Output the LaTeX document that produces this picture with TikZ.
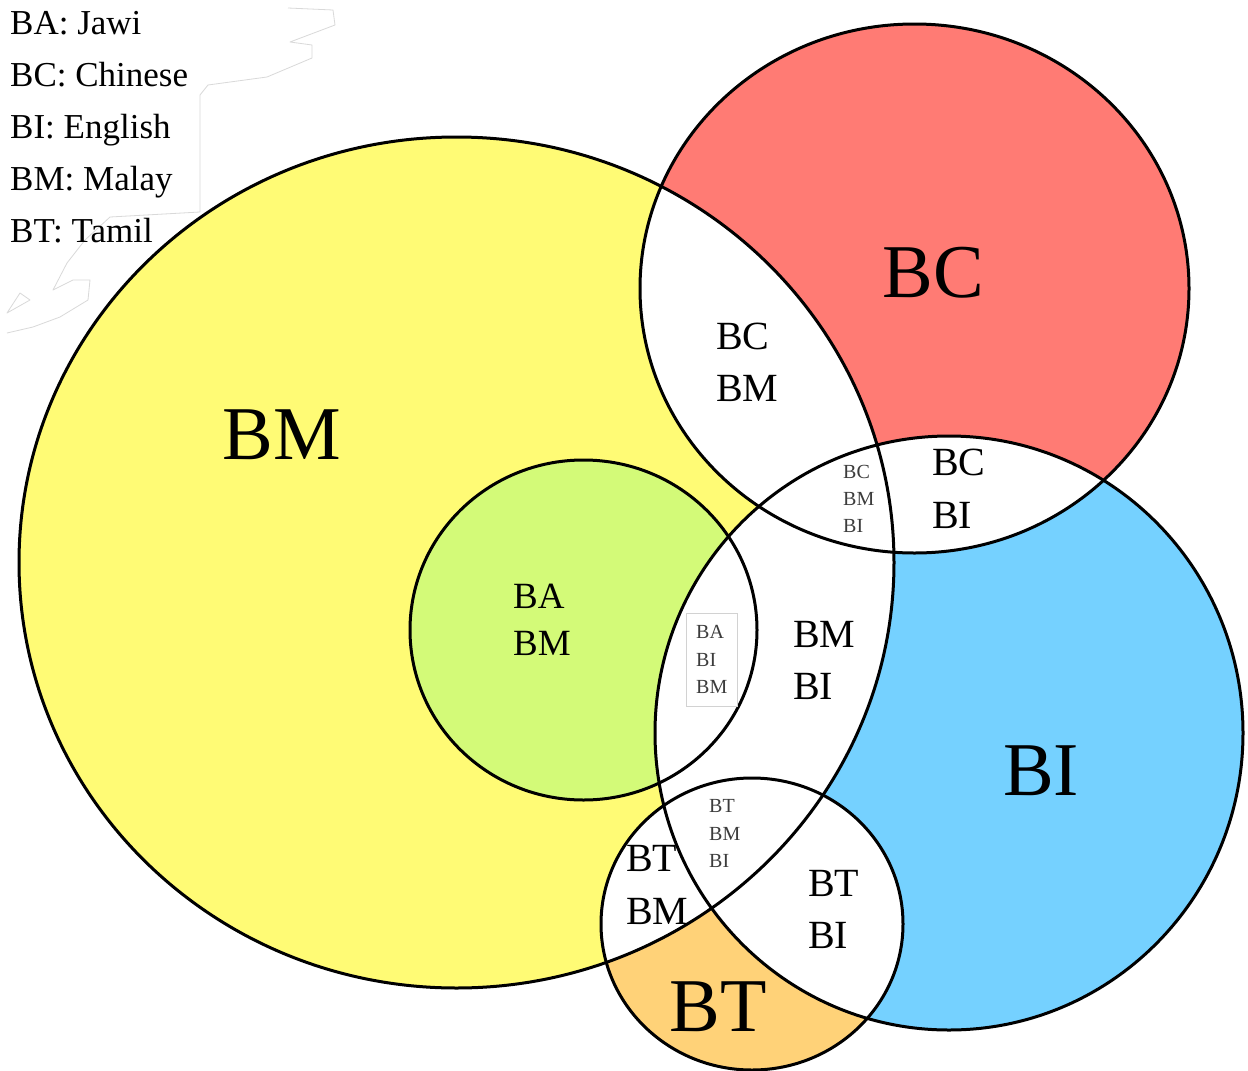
\documentclass[tikz,border=0pt]{standalone}
\usepackage{fontspec}
\setmainfont{Liberation Serif}
\definecolor{cBM}{RGB}{255,251,117}
\definecolor{cBC}{RGB}{255,123,116}
\definecolor{cBI}{RGB}{117,209,255}
\definecolor{cBT}{RGB}{255,210,120}
\definecolor{cBA}{RGB}{211,250,120}
\definecolor{smallgray}{RGB}{60,60,60}
\def\BMpath{(456.5,562.5) ellipse [x radius=437.5pt, y radius=425.5pt]}
\def\BCpath{(914.5,288.5) ellipse [x radius=274.5pt, y radius=264.5pt]}
\def\BIpath{(949,733) ellipse [x radius=294pt, y radius=297pt]}
\def\BTpath{(752,924) ellipse [x radius=151pt, y radius=146pt]}
\def\BApath{(583.5,630) ellipse [x radius=173.5pt, y radius=170pt]}
\begin{document}
\begin{tikzpicture}[x=1pt,y=-1pt,
  outline/.style={draw=black,line width=3pt},
  biglbl/.style={font=\fontsize{76}{76}\selectfont,anchor=base,inner sep=0pt},
  midlbl/.style={font=\fontsize{40}{40}\selectfont,anchor=base west,inner sep=0pt},
  balbl/.style={font=\fontsize{37}{37}\selectfont,anchor=base west,inner sep=0pt},
  smalllbl/.style={font=\fontsize{20}{20}\selectfont,text=smallgray,anchor=base west,inner sep=0pt},
  legend/.style={font=\fontsize{35}{35}\selectfont,anchor=base west,inner sep=0pt}]
\useasboundingbox (0,0) rectangle (1248,1071);
\fill[white] (0,0) rectangle (1248,1071);
% faint legend outline
\draw[gray!30,line width=0.8pt,line join=round]
  (288,8) -- (333,10) -- (335,25) -- (290,42) -- (312,45) -- (312,58) -- (267,77)
  -- (208,85) -- (200,95) -- (200,212) -- (110,217) -- (85,240) -- (67,263)
  -- (53,290) -- (73,280) -- (90,280) -- (88,300) -- (60,317) -- (33,327) -- (7,333);
\draw[gray!30,line width=0.8pt,line join=round] (7,313) -- (20,293) -- (30,300) -- cycle;
% colour fills
\fill[cBM] \BMpath;
\fill[cBC] \BCpath;
\fill[cBI] \BIpath;
\fill[cBT] \BTpath;
\fill[cBA] \BApath;
% white intersections
\begin{scope}
  \clip \BMpath;
  \fill[white] \BCpath;
  \fill[white] \BIpath;
  \fill[white] \BTpath;
\end{scope}
\begin{scope}
  \clip \BCpath;
  \fill[white] \BIpath;
\end{scope}
\begin{scope}
  \clip \BTpath;
  \fill[white] \BIpath;
\end{scope}
% outlines
\path[outline] \BMpath;
\path[outline] \BCpath;
\path[outline] \BIpath;
\path[outline] \BTpath;
\path[outline] \BApath;
% small box
\node[draw=gray!35,fill=white,line width=1pt,minimum width=51pt,minimum height=93pt,inner sep=0pt] (babox) at (711.5,659.5) {};
% legend
\node[legend] (lg1) at (10,34) {BA: Jawi};
\node[legend] (lg2) at (10,86) {BC: Chinese};
\node[legend] (lg3) at (10,138) {BI: English};
\node[legend] (lg4) at (10,190) {BM: Malay};
\node[legend] (lg5) at (10,242) {BT: Tamil};
% big labels
\node[biglbl] (lBM) at (282,459) {BM};
\node[biglbl] (lBC) at (933,297) {BC};
\node[biglbl] (lBI) at (1041,795) {BI};
\node[biglbl] (lBT) at (718.5,1031) {BT};
% medium labels
\node[midlbl] (m1a) at (716,349) {BC};
\node[midlbl] (m1b) at (716,401) {BM};
\node[midlbl] (m2a) at (932,475) {BC};
\node[midlbl] (m2b) at (932,528) {BI};
\node[midlbl] (m3a) at (793,647) {BM};
\node[midlbl] (m3b) at (793,699) {BI};
\node[midlbl] (m4a) at (626,871) {BT};
\node[midlbl] (m4b) at (626,924) {BM};
\node[midlbl] (m5a) at (808,896) {BT};
\node[midlbl] (m5b) at (808,948) {BI};
\node[balbl] (m6a) at (513,608) {BA};
\node[balbl] (m6b) at (513,655) {BM};
% small labels
\node[smalllbl] (s1a) at (843,478) {BC};
\node[smalllbl] (s1b) at (843,505) {BM};
\node[smalllbl] (s1c) at (843,532) {BI};
\node[smalllbl] (s2a) at (696,638) {BA};
\node[smalllbl] (s2b) at (696,666) {BI};
\node[smalllbl] (s2c) at (696,693) {BM};
\node[smalllbl] (s3a) at (709,812) {BT};
\node[smalllbl] (s3b) at (709,840) {BM};
\node[smalllbl] (s3c) at (709,867) {BI};
\end{tikzpicture}
\end{document}
